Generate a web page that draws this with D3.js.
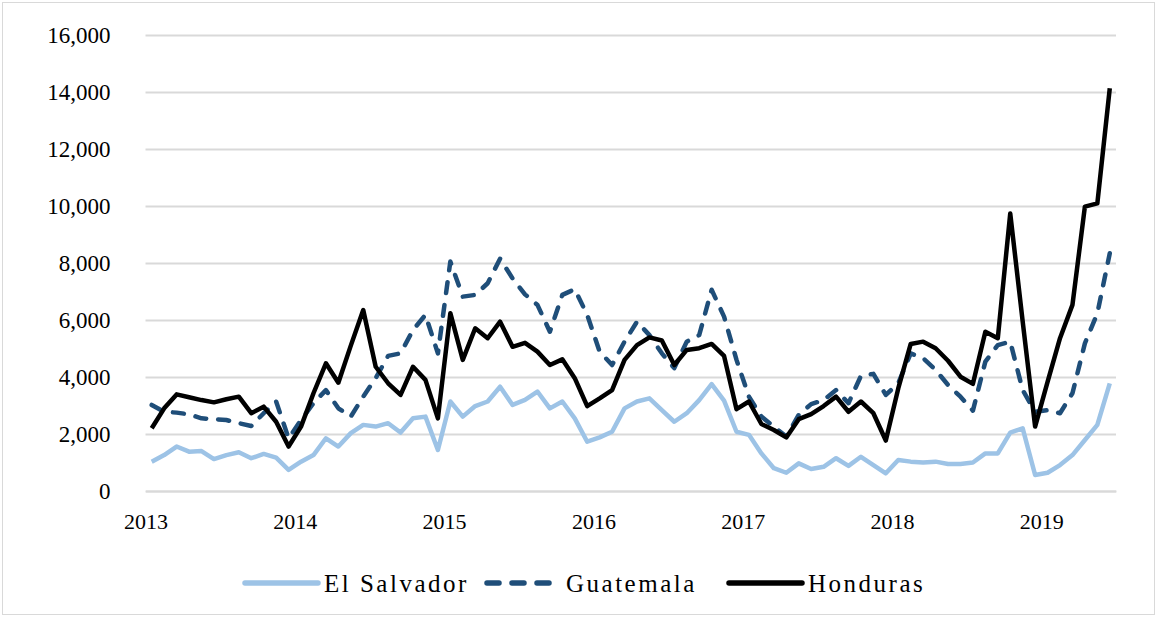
<!DOCTYPE html>
<html>
<head>
<meta charset="utf-8">
<script src="https://cdn.jsdelivr.net/npm/d3@7"></script>
<style>
body { margin: 0; background: #fff; }
text { font-family: "Liberation Serif", "Times New Roman", serif; fill: #000; }
</style>
</head>
<body>
<div id="gr"></div>
<script>
// monthly values, Jan 2013 - Jun 2019
var years = ["2013", "2014", "2015", "2016", "2017", "2018", "2019"];

var elSalvador = [1030, 1260, 1560, 1380, 1400, 1120, 1260, 1360, 1150, 1300, 1170, 740,
  1030, 1260, 1850, 1560, 2030, 2320, 2260, 2380, 2050, 2550, 2610, 1440,
  3140, 2610, 2980, 3140, 3660, 3020, 3200, 3490, 2900, 3140, 2550, 1730,
  1880, 2080, 2900, 3140, 3250, 2840, 2430, 2730, 3190, 3750, 3170, 2080,
  1970, 1320, 800, 640, 970, 770, 850, 1150, 880, 1200, 910, 620,
  1090, 1030, 1000, 1030, 950, 950, 1000, 1320, 1320, 2050, 2200, 560,
  640, 910, 1260, 1790, 2320, 3780];

var guatemala = [3020, 2780, 2750, 2690, 2550, 2520, 2490, 2380, 2280, 2730, 3140, 1850,
  2490, 3080, 3540, 2900, 2610, 3310, 3960, 4740, 4830, 5650, 6180, 4830,
  8050, 6820, 6880, 7290, 8150, 7460, 6900, 6530, 5590, 6880, 7080, 6180,
  4890, 4420, 5240, 5940, 5470, 4830, 4310, 5240, 5470, 7060, 6120, 4600,
  3310, 2610, 2260, 1910, 2670, 3050, 3190, 3540, 3080, 4040, 4110, 3370,
  3780, 4830, 4660, 4250, 3720, 3310, 2820, 4540, 5120, 5240, 3540, 2780,
  2840, 2730, 3430, 5180, 6230, 8340];

var honduras = [2200, 2900, 3390, 3290, 3190, 3110, 3220, 3310, 2730, 2960, 2430, 1560,
  2260, 3430, 4480, 3800, 5100, 6350, 4360, 3780, 3370, 4360, 3900, 2550,
  6240, 4600, 5710, 5360, 5940, 5060, 5200, 4890, 4420, 4620, 3960, 2980,
  3250, 3540, 4600, 5120, 5390, 5280, 4420, 4950, 5010, 5160, 4740, 2870,
  3140, 2350, 2140, 1880, 2520, 2700, 2980, 3310, 2780, 3140, 2730, 1770,
  3600, 5160, 5240, 5010, 4570, 4010, 3760, 5590, 5360, 9740, 5950, 2260,
  3830, 5360, 6530, 9980, 10090, 14130];

var yTicks = [0, 2000, 4000, 6000, 8000, 10000, 12000, 14000, 16000];

var series = [
  { name: "El Salvador", values: elSalvador, color: "#9dc3e6", dash: null },
  { name: "Guatemala", values: guatemala, color: "#1f4e79", dash: "11,12" },
  { name: "Honduras", values: honduras, color: "#000000", dash: null }
];

var width = 1160,
  height = 620;

var margin = { left: 145.5, right: 44, top: 35, bottom: 129 };
var plotW = width - margin.left - margin.right,
  plotH = height - margin.top - margin.bottom;

var svg = d3.select("#gr").append("svg").
attr("width", width).
attr("height", height);

svg.append("rect").
attr("x", 2.5).
attr("y", 2.5).
attr("width", width - 8).
attr("height", height - 8).
attr("fill", "none").
attr("stroke", "#d9d9d9").
attr("stroke-width", 1);

var g = svg.append("g").
attr("transform", "translate(" + margin.left + "," + margin.top + ")");

var nMonths = elSalvador.length;
var xScale = d3.scaleLinear().domain([0, nMonths]).range([0, plotW]);
var yScale = d3.scaleLinear().domain([0, 16000]).range([plotH, 0]);

var yAxis = d3.axisLeft(yScale).
tickValues(yTicks).
tickSize(-plotW).
tickPadding(35).
tickFormat(d3.format(","));

var ya = g.append("g").call(yAxis);
ya.select(".domain").remove();
ya.selectAll("line").attr("stroke", "#d9d9d9").attr("stroke-width", 2);
ya.selectAll("text").style("font-size", "23px").attr("font-family", null);

var xAxis = d3.axisBottom(xScale).
tickValues(years.map(function (d, i) {return i * 12;})).
tickSize(0).
tickPadding(22).
tickFormat(function (d) {return years[d / 12];});

var xa = g.append("g").
attr("transform", "translate(0," + plotH + ")").
call(xAxis);
xa.select(".domain").attr("stroke", "#d9d9d9").attr("stroke-width", 2);
xa.selectAll("text").style("font-size", "22px").attr("font-family", null);

var line = d3.line().
x(function (d, i) {return xScale(i + 0.5);}).
y(function (d) {return yScale(d);});

g.selectAll(".series").
data(series).
enter().
append("path").
attr("class", "series").
attr("d", function (d) {return line(d.values);}).
attr("fill", "none").
attr("stroke", function (d) {return d.color;}).
attr("stroke-width", 4.5).
attr("stroke-linejoin", "round").
attr("stroke-linecap", function (d) {return d.dash ? "round" : "butt";}).
attr("stroke-dasharray", function (d) {return d.dash;});

// legend
var legendX = [245, 487, 729];
var legend = svg.selectAll(".legend").
data(series).
enter().
append("g").
attr("class", "legend").
attr("transform", function (d, i) {return "translate(" + legendX[i] + ",583)";});

legend.append("line").
attr("x1", 0).
attr("x2", 73).
attr("y1", 0).
attr("y2", 0).
attr("stroke", function (d) {return d.color;}).
attr("stroke-width", 5.5).
attr("stroke-linecap", "round").
attr("stroke-dasharray", function (d) {return d.dash ? "12,13" : null;});

legend.append("text").
attr("x", 79).
attr("y", 0).
attr("dy", "0.35em").
style("font-size", "25px").
style("letter-spacing", "2.5px").
text(function (d) {return d.name;});
</script>
</body>
</html>
